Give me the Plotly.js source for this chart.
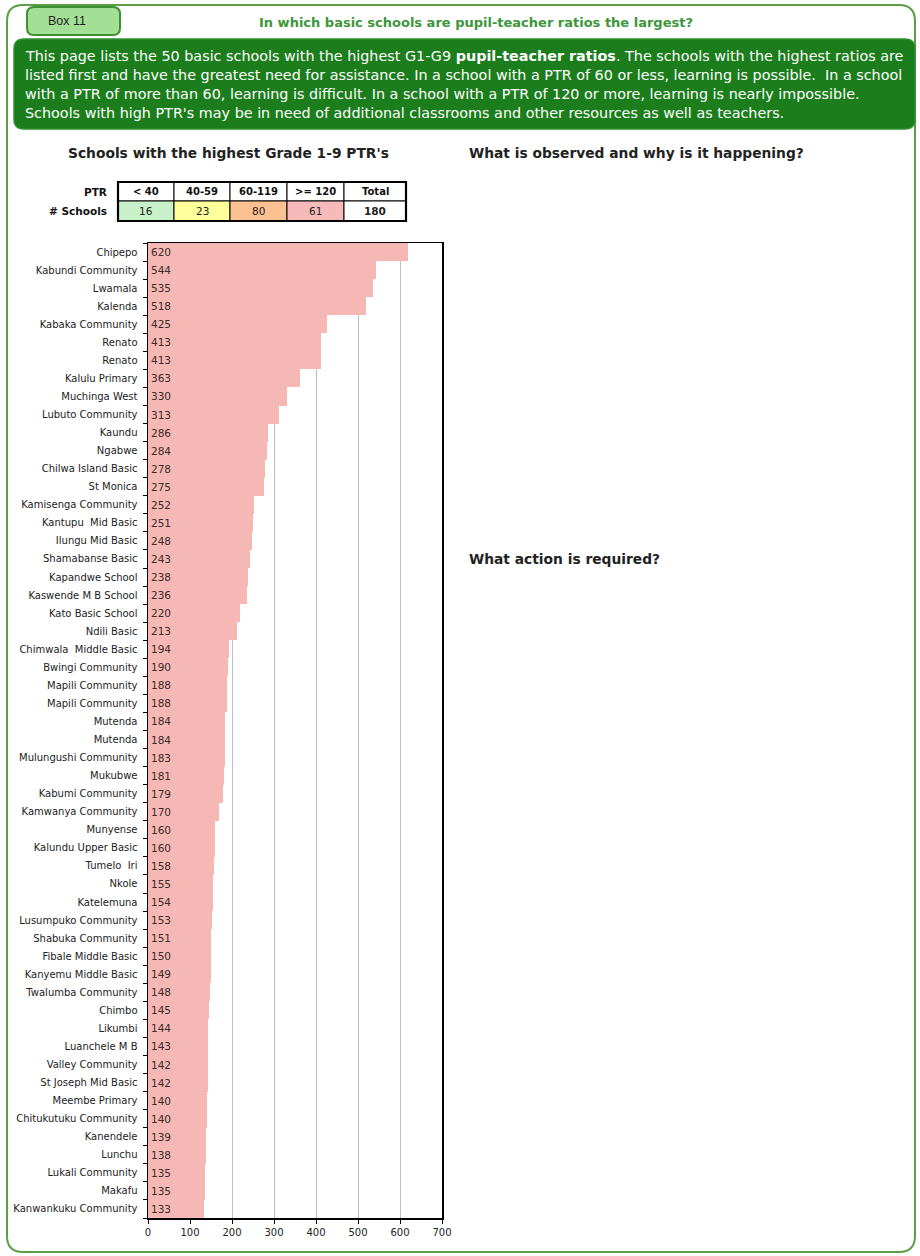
<!DOCTYPE html>
<html>
<head>
<meta charset="utf-8">
<script src="https://cdn.plot.ly/plotly-3.0.1.min.js"></script>
<style>
  html, body { margin: 0; padding: 0; background: #ffffff; }
  #chart { width: 920px; height: 1256px; }
</style>
</head>
<body>
<div id="chart"></div>
<script>
// ---------- data ----------
const schools = [
  "Chipepo", "Kabundi Community", "Lwamala", "Kalenda", "Kabaka Community",
  "Renato", "Renato", "Kalulu Primary", "Muchinga West", "Lubuto Community",
  "Kaundu", "Ngabwe", "Chilwa Island Basic", "St Monica", "Kamisenga Community",
  "Kantupu  Mid Basic", "Ilungu Mid Basic", "Shamabanse Basic", "Kapandwe School",
  "Kaswende M B School", "Kato Basic School", "Ndili Basic", "Chimwala  Middle Basic",
  "Bwingi Community", "Mapili Community", "Mapili Community", "Mutenda", "Mutenda",
  "Mulungushi Community", "Mukubwe", "Kabumi Community", "Kamwanya Community",
  "Munyense", "Kalundu Upper Basic", "Tumelo  Iri", "Nkole", "Katelemuna",
  "Lusumpuko Community", "Shabuka Community", "Fibale Middle Basic",
  "Kanyemu Middle Basic", "Twalumba Community", "Chimbo", "Likumbi",
  "Luanchele M B", "Valley Community", "St Joseph Mid Basic", "Meembe Primary",
  "Chitukutuku Community", "Kanendele", "Lunchu", "Lukali Community", "Makafu",
  "Kanwankuku Community"
];
const ptrValues = [
  620, 544, 535, 518, 425, 413, 413, 363, 330, 313,
  286, 284, 278, 275, 252, 251, 248, 243, 238, 236,
  220, 213, 194, 190, 188, 188, 184, 184, 183, 181,
  179, 170, 160, 160, 158, 155, 154, 153, 151, 150,
  149, 148, 145, 144, 143, 142, 142, 140, 140, 139,
  138, 135, 135, 133
];
const xTicks = [0, 100, 200, 300, 400, 500, 600, 700];

const ptrBands = ["< 40", "40-59", "60-119", ">= 120", "Total"];
const bandCounts = [16, 23, 80, 61, 180];
const bandColors = ["#c9f1c9", "#ffff9c", "#fbc190", "#f6baba", "#ffffff"];

const paragraphLines = [
  "This page lists the 50 basic schools with the highest G1-G9 <b>pupil-teacher ratios</b>. The schools with the highest ratios are",
  "listed first and have the greatest need for assistance. In a school with a PTR of 60 or less, learning is possible.  In a school",
  "with a PTR of more than 60, learning is difficult. In a school with a PTR of 120 or more, learning is nearly impossible.",
  "Schools with high PTR's may be in need of additional classrooms and other resources as well as teachers."
];

// ---------- geometry helpers (pixel -> paper) ----------
const L = 148, R = 442, T = 243, B = 1218;
const px = x => (x - L) / (R - L);
const py = y => (B - y) / (B - T);
function rr(x0, y0, x1, y1, r) {
  const p = (x, y) => px(x).toFixed(5) + "," + py(y).toFixed(5);
  return "M" + p(x0 + r, y0) + " L" + p(x1 - r, y0) + " Q" + p(x1, y0) + " " + p(x1, y0 + r) +
         " L" + p(x1, y1 - r) + " Q" + p(x1, y1) + " " + p(x1 - r, y1) +
         " L" + p(x0 + r, y1) + " Q" + p(x0, y1) + " " + p(x0, y1 - r) +
         " L" + p(x0, y0 + r) + " Q" + p(x0, y0) + " " + p(x0 + r, y0) + " Z";
}
function rect(x0, y0, x1, y1, fill, lineColor, lineWidth) {
  return { type: "rect", xref: "paper", yref: "paper",
           x0: px(x0), x1: px(x1), y0: py(y1), y1: py(y0),
           fillcolor: fill, line: { color: lineColor, width: lineWidth } };
}
const SANS = "Liberation Sans, Arial, sans-serif";
const DJ = "DejaVu Sans, Verdana, sans-serif";
function txt(x, y, text, opts) {
  return Object.assign({ xref: "paper", yref: "paper", x: px(x), y: py(y), text: text,
    showarrow: false, xanchor: "left", yanchor: "middle",
    font: { family: DJ, size: 12, color: "#222" } }, opts || {});
}

// ---------- shapes ----------
const shapes = [];
shapes.push({ type: "path", xref: "paper", yref: "paper", path: rr(7, 5, 915, 1252, 16),
              fillcolor: "rgba(0,0,0,0)", line: { color: "#5c9e45", width: 2 } });
shapes.push({ type: "path", xref: "paper", yref: "paper", path: rr(14, 39, 915, 129, 10),
              fillcolor: "#1b7d1b", line: { color: "#2f8f2f", width: 1.5 } });
shapes.push({ type: "path", xref: "paper", yref: "paper", path: rr(27, 7, 120, 35, 7),
              fillcolor: "#a3e095", line: { color: "#3f8f35", width: 2 } });

// table
const colX = [118, 174, 230, 287, 344, 406];
const rowY = [182, 201, 221];
for (let i = 0; i < ptrBands.length; i++) {
  shapes.push(rect(colX[i], rowY[0], colX[i + 1], rowY[1], "#ffffff", "#000", 1));
  shapes.push(rect(colX[i], rowY[1], colX[i + 1], rowY[2], bandColors[i], "#000", 1));
}
shapes.push(rect(colX[0], rowY[0], colX[5], rowY[2], "rgba(0,0,0,0)", "#000", 2.2));

// ---------- annotations ----------
const annotations = [];
annotations.push(txt(67, 21, "Box 11", { xanchor: "center", font: { family: SANS, size: 12.5, color: "#1e1e1e" } }));
annotations.push(txt(476, 22, "<b>In which basic schools are pupil-teacher ratios the largest?</b>",
  { xanchor: "center", font: { family: DJ, size: 13, color: "#3d963a" } }));
const lineYs = [56, 75, 94, 113];
paragraphLines.forEach((t, i) => {
  annotations.push(txt(23, lineYs[i], t, { font: { family: DJ, size: 14.35, color: "#ffffff" } }));
});
annotations.push(txt(228, 153, "<b>Schools with the highest Grade 1-9 PTR's</b>",
  { xanchor: "center", font: { family: DJ, size: 13.8, color: "#222" } }));
annotations.push(txt(467, 153, "<b>What is observed and why is it happening?</b>",
  { font: { family: DJ, size: 13.8, color: "#222" } }));
annotations.push(txt(467, 559, "<b>What action is required?</b>",
  { font: { family: DJ, size: 13.8, color: "#222" } }));
annotations.push(txt(109, 192, "<b>PTR</b>", { xanchor: "right", font: { family: DJ, size: 10.5, color: "#111" } }));
annotations.push(txt(109, 211, "<b># Schools</b>", { xanchor: "right", font: { family: DJ, size: 10.5, color: "#111" } }));
for (let i = 0; i < ptrBands.length; i++) {
  const cx = (colX[i] + colX[i + 1]) / 2;
  annotations.push(txt(cx, 192, "<b>" + ptrBands[i] + "</b>", { xanchor: "center", font: { family: DJ, size: 10, color: "#111" } }));
  const v = i === 4 ? "<b>" + bandCounts[i] + "</b>" : String(bandCounts[i]);
  annotations.push(txt(cx, 211, v, { xanchor: "center", font: { family: DJ, size: 10.5, color: "#222" } }));
}

// ---------- chart ----------
const idx = schools.map((_, i) => i);
const boundaries = [];
for (let i = 0; i <= schools.length; i++) boundaries.push(i - 0.5);

const trace = {
  type: "bar", orientation: "h",
  x: ptrValues, y: idx,
  text: ptrValues.map(String),
  textposition: "inside", insidetextanchor: "start", textangle: 0,
  textfont: { family: DJ, size: 10.5, color: "#3b2b2b" },
  marker: { color: "#f5b8b4", line: { width: 0 } },
  hoverinfo: "none", cliponaxis: false
};

const layout = {
  width: 920, height: 1256,
  margin: { l: L, r: 920 - R, t: T, b: 1256 - B, pad: 0 },
  paper_bgcolor: "#ffffff", plot_bgcolor: "#ffffff",
  showlegend: false, bargap: 0,
  xaxis: {
    range: [0, 700], tickmode: "array", tickvals: xTicks, ticktext: xTicks.map(String),
    ticks: "outside", ticklen: 4, tickcolor: "#000", tickwidth: 1,
    showgrid: true, gridcolor: "#bdbdbd", gridwidth: 1,
    showline: true, linecolor: "#000", linewidth: 1.5, mirror: true, zeroline: false,
    tickfont: { family: DJ, size: 10, color: "#222" }, fixedrange: true
  },
  yaxis: {
    range: [schools.length - 0.5, -0.5], tickmode: "array", tickvals: idx, ticktext: schools,
    ticks: "", showgrid: false, zeroline: false,
    showline: true, linecolor: "#000", linewidth: 1.5, mirror: true,
    ticklabelstandoff: 7,
    minor: { tickmode: "array", tickvals: boundaries, ticks: "outside", ticklen: 4, tickcolor: "#000", tickwidth: 1, showgrid: false },
    tickfont: { family: DJ, size: 10, color: "#222" }, fixedrange: true
  },
  shapes: shapes,
  annotations: annotations
};

Plotly.newPlot("chart", [trace], layout, { displayModeBar: false, staticPlot: true });
</script>
</body>
</html>
